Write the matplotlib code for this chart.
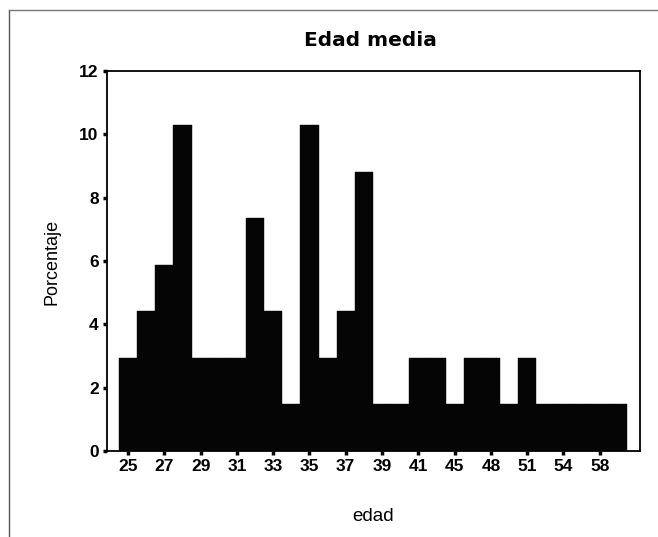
import matplotlib
matplotlib.use("Agg")
import matplotlib.pyplot as plt
from matplotlib.lines import Line2D

# Data
edades = ["25", "26", "27", "28", "29", "30", "31", "32", "33", "34", "35", "36", "37", "38",
          "39", "40", "41", "43", "45", "46", "48", "50", "51", "52", "54", "56", "58", "60"]
porcentaje = [2.94, 4.41, 5.88, 10.29, 2.94, 2.94, 2.94, 7.35, 4.41, 1.47, 10.29, 2.94, 4.41, 8.82,
              1.47, 1.47, 2.94, 2.94, 1.47, 2.94, 2.94, 1.47, 2.94, 1.47, 1.47, 1.47, 1.47, 1.47]
yticks = [0, 2, 4, 6, 8, 10, 12]

plt.rcParams['font.family'] = ['Liberation Sans', 'DejaVu Sans']

W, H = 658, 537
fig = plt.figure(figsize=(W / 100, H / 100), dpi=100)
ax = fig.add_axes([107 / W, 1 - 451 / H, (640 - 107) / W, (451 - 71) / H])

x = list(range(len(edades)))
ax.bar(x, porcentaje, width=1.0, color='#050505', edgecolor='#050505', linewidth=0.3)

ax.set_xlim(-1.16, len(edades) - 0.5 + 0.72)
ax.set_ylim(0, 12)
ax.set_yticks(yticks)
ax.set_yticklabels([str(v) for v in yticks], fontsize=12.5)
ax.set_xticks(x[::2])
ax.set_xticklabels(edades[::2], fontsize=12.5, fontweight='bold')
for lbl in ax.get_yticklabels():
    lbl.set_fontweight('bold')

ax.tick_params(axis='both', direction='out', length=3, width=2.5, color='black', pad=3)
for s in ax.spines.values():
    s.set_linewidth(1.3)
    s.set_color('black')

ax.set_ylabel('Porcentaje', fontsize=13)
ax.yaxis.set_label_coords(-(107 - 61) / (640 - 107), 0.497)
ax.set_xlabel('edad', fontsize=13.5)
ax.xaxis.set_label_coords(0.5, -(508 - 451) / (451 - 71))
fig.text(370 / W, 1 - 40 / H, 'Edad media', ha='center', va='center',
         fontsize=14.5, fontweight='bold', family=['DejaVu Sans'])

# outer frame (scanned page border)
fig.add_artist(Line2D([9 / W, 9 / W], [0, 1 - 10 / H], transform=fig.transFigure,
                      color='#555555', linewidth=1.0))
fig.add_artist(Line2D([9 / W, 1], [1 - 10 / H, 1 - 10 / H], transform=fig.transFigure,
                      color='#777777', linewidth=1.0))

fig.savefig('out.png', dpi=100)
